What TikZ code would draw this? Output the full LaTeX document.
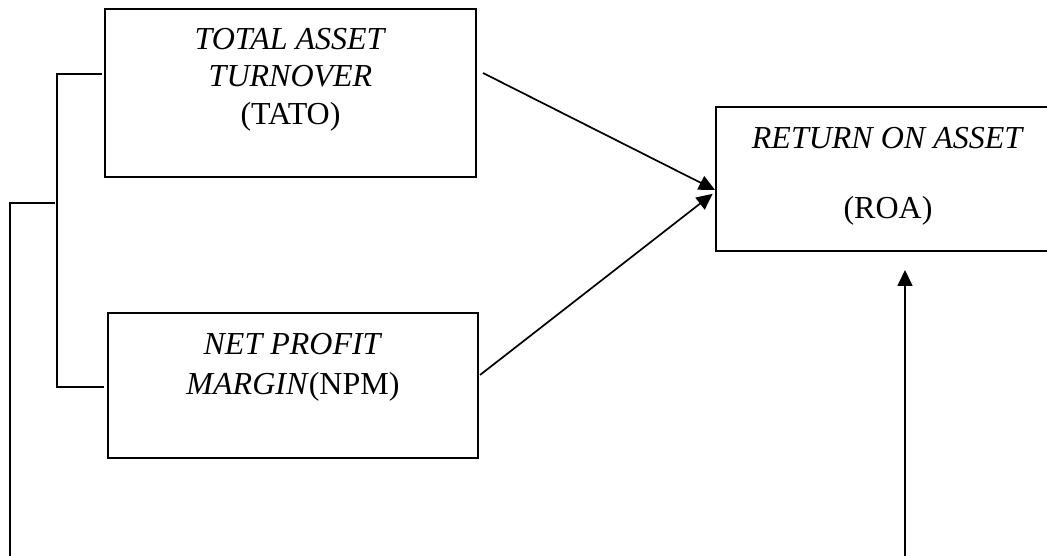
\documentclass[tikz,border=0pt]{standalone}
\usepackage{fontspec}
\setmainfont{Liberation Serif}
\usetikzlibrary{positioning,arrows.meta}

\begin{document}
\begin{tikzpicture}[x=1pt, y=1pt, line width=1.7pt,
    every node/.style={font=\fontsize{32}{37.5}\selectfont},
    box/.style={rectangle, draw, line width=2pt, inner sep=0pt},
    caption/.style={align=center, inner sep=0pt},
    >={Triangle[length=16pt, width=15pt]}]
    \useasboundingbox (0,0) rectangle (1047,556);

    \node (tato) [box, minimum width=371pt, minimum height=168pt] at (290.5,463) {};
    \node (tatotext) [caption, below=19pt of tato.north] {\textit{TOTAL ASSET}\\\textit{TURNOVER}\\(TATO)};
    \node (npm) [box, minimum width=370pt, minimum height=145pt] at (293,170.5) {};
    \node (npmtext) [caption, below=20pt of npm.north] {\textit{NET PROFIT}\\[3pt]\textit{MARGIN}(NPM)};
    \node (roa) [box, minimum width=344pt, minimum height=144pt] at (888,377) {};
    \node (roatext) [caption, below=20pt of roa.north] {\textit{RETURN ON ASSET}\\[33pt](ROA)};

    \coordinate (bend) at (55,353);
    \coordinate (leftend) at (10,0);
    \coordinate (rightend) at (905,0);

    \draw[->] ([xshift=6pt, yshift=20pt]tato.east) -- ([yshift=-11pt]roa.west);
    \draw[->, shorten >=3pt] ([xshift=1pt, yshift=10.5pt]npm.east) -- ([yshift=-13pt]roa.west);
    \draw ([xshift=-2pt, yshift=19pt]tato.west) -- ++(-45,0) |- ([xshift=-3pt, yshift=-1.5pt]npm.west);
    \draw (bend) -| (leftend);
    \draw[->, shorten >=18pt] (rightend) -- (rightend |- roa.south);
\end{tikzpicture}
\end{document}
